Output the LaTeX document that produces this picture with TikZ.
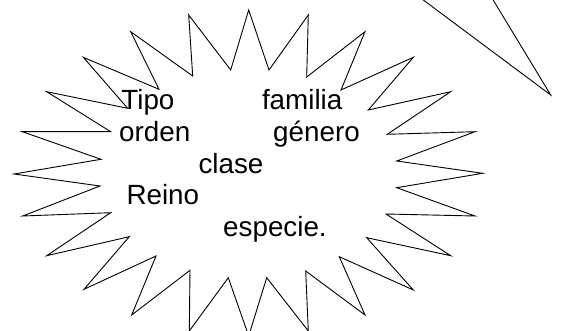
\documentclass[tikz,border=0pt]{standalone}
\usepackage{fontspec}
\setmainfont{Liberation Sans}
\begin{document}
\begin{tikzpicture}[x=1pt,y=-1pt,
  shapeline/.style={draw=black,line width=0.9pt,line join=miter},
  word/.style={anchor=base west,inner sep=0pt,font=\fontsize{27.8}{33}\selectfont}]
\useasboundingbox (0,0) rectangle (563,331);
\clip (0,0) rectangle (563,331);
% explosion shape
\draw[shapeline,fill=white]
  (248.7,10) -- (269,70) -- (308.3,15) -- (306.7,77) -- (365,31.7) -- (341,90)
  -- (413.3,57.3) -- (368.3,110) -- (450.7,91.7) -- (387.3,134.3) -- (475,131.7)
  -- (396.7,161) -- (482.7,173.3) -- (396.7,187.7) -- (475,216) -- (386,214)
  -- (450.7,255.7) -- (366.7,237.7) -- (413.3,290) -- (339.3,256.7) -- (365,315)
  -- (305.7,271) -- (308.3,331) -- (266.7,277.7) -- (248.7,336) -- (228.3,277.7)
  -- (189.3,331) -- (190,270.3) -- (131.7,315) -- (156,256) -- (84,289.3)
  -- (129.3,236.7) -- (46.7,255.7) -- (110.7,212.7) -- (22.7,216) -- (100,186)
  -- (14,174) -- (101,159.3) -- (22.3,131.7) -- (110.7,131.7) -- (46.7,91.7)
  -- (127.7,108.3) -- (83.3,57.3) -- (159,89.3) -- (130.7,31.7) -- (192.7,76)
  -- (188.7,15) -- (230.7,70) -- cycle;
% partial pointer shape at top right
\draw[shapeline] (412.6,-8) -- (550.7,95) -- (488.3,-8);
% words
\node[word] (tipo) at (121.2,109.3) {Tipo};
\node[word] (familia) at (261.8,109.3) {familia};
\node[word] (orden) at (119,141.7) {orden};
\node[word] (genero) at (273,141.7) {género};
\node[word] (clase) at (198.3,173.3) {clase};
\node[word] (reino) at (126.3,205) {Reino};
\node[word] (especie) at (223,236.7) {especie.};
\end{tikzpicture}
\end{document}
